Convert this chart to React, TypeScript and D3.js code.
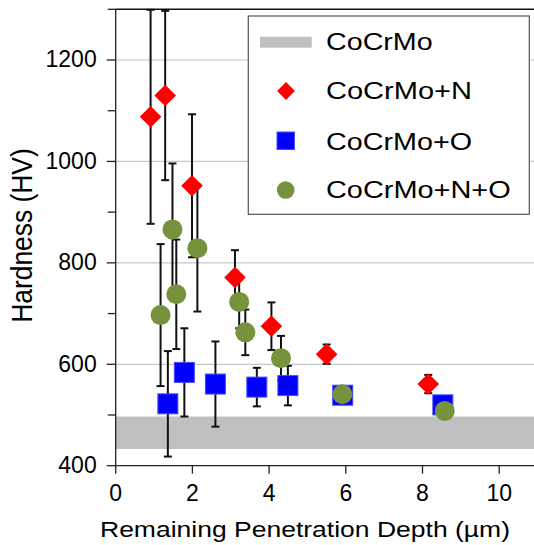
import React from "react";
import * as d3 from "d3";

// Hardness vs remaining penetration depth
const baseBand = [433, 497]; // CoCrMo reference range (HV)

const nDepth = [0.91, 1.29, 1.99, 3.11, 4.06, 5.5, 8.15];
const nHard = [1088, 1130, 952, 771, 675, 620, 561];
const nErr = [211, 167, 141, 54, 47, 19, 18];

const oDepth = [1.36, 1.79, 2.6, 3.68, 4.49, 5.92, 8.53];
const oHard = [522, 584, 561, 555, 558, 539, 520];
const oErr = [104, 87, 84, 38, 39, 10, 10];

const noDepth = [1.17, 1.48, 1.58, 2.13, 3.22, 3.38, 4.31, 5.91, 8.58];
const noHard = [697, 866, 738, 829, 723, 663, 612, 541, 508];
const noErr = [140, 130, 108, 125, 52, 45, 44, 10, 10];

const xTicks = [0, 2, 4, 6, 8, 10];
const yTicks = [400, 600, 800, 1000, 1200];
const yMinor = [500, 700, 900, 1100, 1300];
const gridTicks = [600, 800, 1000, 1200];

const legendLabels = ["CoCrMo", "CoCrMo+N", "CoCrMo+O", "CoCrMo+N+O"];

const W = 534;
const H = 545;
const FONT = "'Liberation Sans', Arial, sans-serif";

const diamondPath = (r: number) => {
  const p = d3.path();
  p.moveTo(0, -r);
  p.lineTo(r, 0);
  p.lineTo(0, r);
  p.lineTo(-r, 0);
  p.closePath();
  return p.toString();
};

export default function App() {
  const x = d3.scaleLinear().domain([0, 11]).range([115.7, 115.7 + 11 * 38.35]);
  const y = d3.scaleLinear().domain([400, 1300]).range([465.7, 9.3]);
  const left = x(0);
  const bottom = y(400);
  const top = y(1300);

  const red = "#ff0000";
  const blue = "#0000ff";
  const green = "#76923c";

  const zip = (xs: number[], ys: number[], es: number[]) =>
    xs.map((d, i) => ({ x: d, y: ys[i], e: es[i] }));
  const nPts = zip(nDepth, nHard, nErr);
  const oPts = zip(oDepth, oHard, oErr);
  const noPts = zip(noDepth, noHard, noErr);

  const errBar = (p: { x: number; y: number; e: number }, key: string) => {
    const cx = x(p.x);
    const y1 = y(p.y + p.e);
    const y2 = y(p.y - p.e);
    return (
      <g key={key} stroke="#111" strokeWidth={2}>
        <line x1={cx} x2={cx} y1={y1} y2={y2} />
        <line x1={cx - 4} x2={cx + 4} y1={y1} y2={y1} />
        <line x1={cx - 4} x2={cx + 4} y1={y2} y2={y2} />
      </g>
    );
  };

  return (
    <svg
      width={W}
      height={H}
      style={{ position: "absolute", left: 0, top: 0, background: "#fff" }}
      fontFamily={FONT}
    >
      {/* reference band */}
      <rect
        x={left}
        y={y(baseBand[1])}
        width={W - left}
        height={y(baseBand[0]) - y(baseBand[1])}
        fill="#c0c0c0"
      />
      {/* grid */}
      {gridTicks.map((t) => (
        <line key={t} x1={left} x2={W} y1={y(t)} y2={y(t)} stroke="#c8c8c8" strokeWidth={1.2} />
      ))}
      {/* frame */}
      <line x1={left} x2={W} y1={top} y2={top} stroke="#111" strokeWidth={1.5} />
      <line x1={left} x2={W} y1={bottom} y2={bottom} stroke="#222" strokeWidth={1.3} />
      <line x1={left} x2={left} y1={top} y2={bottom} stroke="#222" strokeWidth={1.3} />
      {/* y ticks */}
      {yTicks.map((t) => (
        <g key={t}>
          <line x1={left - 9} x2={left} y1={y(t)} y2={y(t)} stroke="#222" strokeWidth={1.3} />
          <text x={left - 19} y={y(t) - 1} dy="0.36em" textAnchor="end" fontSize={23}>
            {t}
          </text>
        </g>
      ))}
      {yMinor.map((t) => (
        <line key={t} x1={left - 8} x2={left} y1={y(t)} y2={y(t)} stroke="#222" strokeWidth={1.3} />
      ))}
      {/* x ticks */}
      {xTicks.map((t) => (
        <g key={t}>
          <line x1={x(t)} x2={x(t)} y1={bottom} y2={bottom + 8} stroke="#222" strokeWidth={1.3} />
          <text x={x(t)} y={501} textAnchor="middle" fontSize={23}>
            {t}
          </text>
        </g>
      ))}
      {/* axis titles */}
      <text
        x={305}
        y={536.7}
        textAnchor="middle"
        fontSize={22.5}
        textLength={410}
        lengthAdjust="spacingAndGlyphs"
      >
        Remaining Penetration Depth (µm)
      </text>
      <text
        transform="translate(31.5,235.5) scale(1.14,1) rotate(-90)"
        textAnchor="middle"
        fontSize={26.4}
      >
        Hardness (HV)
      </text>

      {/* error bars */}
      {nPts.map((p, i) => errBar(p, "ne" + i))}
      {oPts.map((p, i) => errBar(p, "oe" + i))}
      {noPts.map((p, i) => errBar(p, "noe" + i))}

      {/* markers */}
      {oPts.map((p, i) => (
        <rect
          key={"o" + i}
          x={x(p.x) - 10}
          y={y(p.y) - 10}
          width={20}
          height={20}
          fill={blue}
          stroke="#4a4aff"
          strokeWidth={1}
        />
      ))}
      {nPts.map((p, i) => (
        <path
          key={"n" + i}
          transform={`translate(${x(p.x)},${y(p.y)})`}
          d={diamondPath(10.8)}
          fill={red}
        />
      ))}
      {noPts.map((p, i) => (
        <circle key={"no" + i} cx={x(p.x)} cy={y(p.y)} r={10} fill={green} />
      ))}

      {/* legend */}
      <rect x={248.3} y={16} width={281} height={198.3} fill="#fff" stroke="#555" strokeWidth={1.2} />
      <rect x={260} y={36.7} width={51.7} height={11} fill="#c0c0c0" />
      <path transform="translate(286,91)" d={diamondPath(8.9)} fill={red} />
      <rect x={277} y={132} width={17.5} height={17.5} fill={blue} stroke="#4a4aff" strokeWidth={1} />
      <circle cx={285.7} cy={190} r={8.8} fill={green} />
      {legendLabels.map((l, i) => (
        <text
          key={l}
          x={326}
          y={[41.3, 90.5, 140.8, 189.6][i]}
          dy="0.36em"
          fontSize={24.5}
          textLength={[106.7, 146, 146, 184.7][i]}
          lengthAdjust="spacingAndGlyphs"
        >
          {l}
        </text>
      ))}
    </svg>
  );
}
